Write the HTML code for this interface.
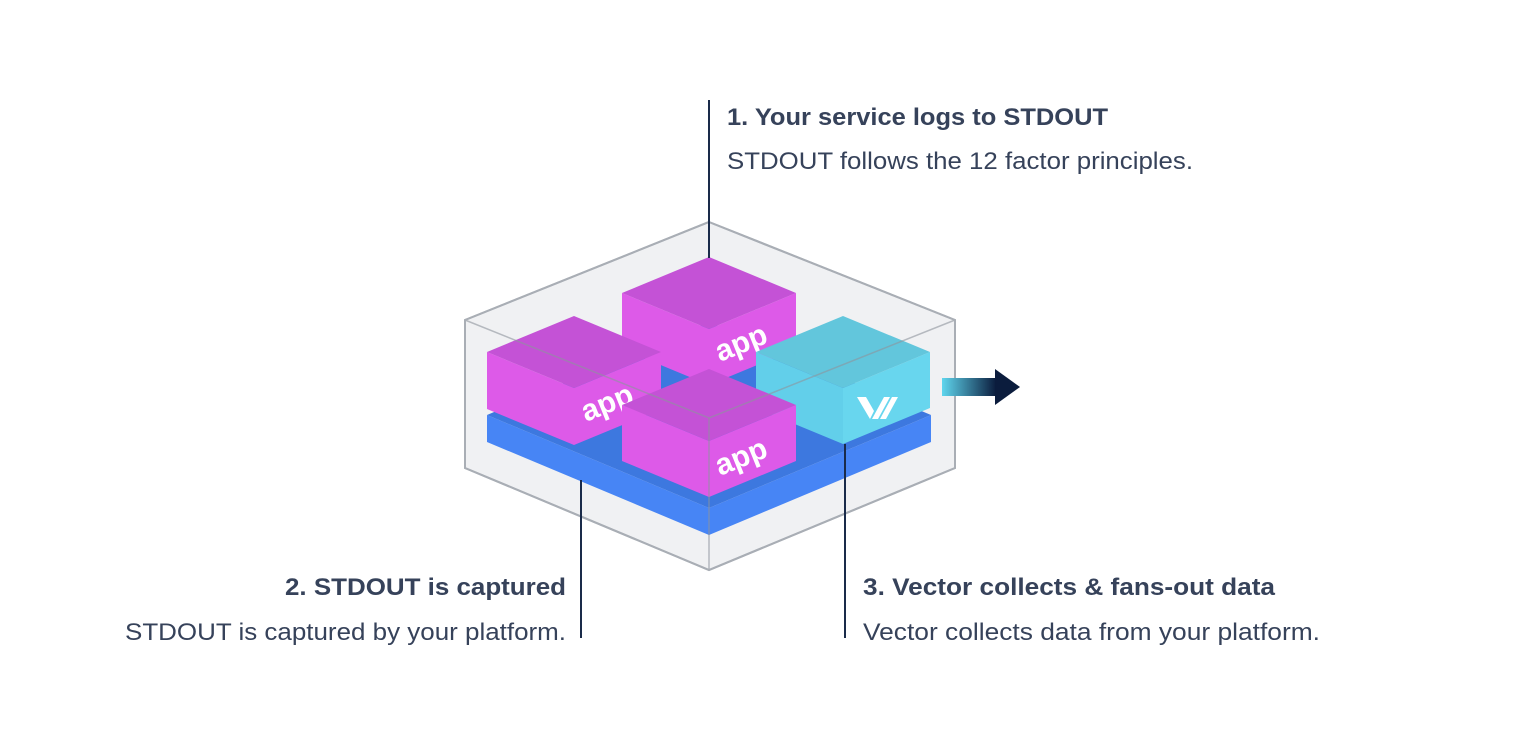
<!DOCTYPE html>
<html><head><meta charset="utf-8"><style>
html,body{margin:0;padding:0;background:#fff;}
body{width:1522px;height:724px;overflow:hidden;font-family:"Liberation Sans",sans-serif;}
</style></head><body>
<svg width="1522" height="724" viewBox="0 0 1522 724" xmlns="http://www.w3.org/2000/svg" font-family="Liberation Sans, sans-serif">
<defs>
<linearGradient id="ag" x1="0" x2="1" y1="0" y2="0"><stop offset="0" stop-color="#5fd6ee"/><stop offset="1" stop-color="#0b1c3d"/></linearGradient>
</defs>
<polygon points="709,222 955,320 955,468 709,570 465,468 465,320" fill="#f0f1f3" stroke="#a9aeb5" stroke-width="2"/>
<polygon points="487,415 709,508 709,535 487,442" fill="#4785f5"/>
<polygon points="709,508 931,415 931,442 709,535" fill="#4785f5"/>
<polygon points="709,322 931,415 709,508 487,415" fill="#3d78df"/>
<!-- back app -->
<polygon points="622,293 709,329 709,385 622,349" fill="#dd5ae8"/>
<polygon points="709,329 796,293 796,349 709,385" fill="#dd5ae8"/>
<polygon points="709,257 796,293 709,329 622,293" fill="#c452d6"/>
<text transform="translate(720,362) rotate(-22)" fill="#fff" font-weight="bold" font-size="30">app</text>
<!-- left app -->
<polygon points="487,352 574,388 574,445 487,409" fill="#dd5ae8"/>
<polygon points="574,388 661,352 661,409 574,445" fill="#dd5ae8"/>
<polygon points="574,316 661,352 574,388 487,352" fill="#c452d6"/>
<text transform="translate(586,422) rotate(-22)" fill="#fff" font-weight="bold" font-size="30">app</text>
<!-- vector box -->
<polygon points="756,352 843,388 843,444 756,408" fill="#62cfea"/>
<polygon points="843,388 930,352 930,408 843,444" fill="#68d6ee"/>
<polygon points="843,316 930,352 843,388 756,352" fill="#62c6dc"/>
<polygon points="857,397 866,397 874,411 870,419" fill="#fff"/>
<polygon points="872,419 884,397 890,397 878,419" fill="#fff"/>
<polygon points="880,419 892,397 898,397 886,419" fill="#fff"/>
<!-- front app -->
<polygon points="622,405 709,441 709,497 622,461" fill="#dd5ae8"/>
<polygon points="709,441 796,405 796,461 709,497" fill="#dd5ae8"/>
<polygon points="709,369 796,405 709,441 622,405" fill="#c452d6"/>
<text transform="translate(720,476) rotate(-22)" fill="#fff" font-weight="bold" font-size="30">app</text>
<polyline points="465,320 709,418 955,320" fill="none" stroke="#8e949c" stroke-opacity="0.6" stroke-width="1.5"/>
<line x1="709" y1="418" x2="709" y2="570" stroke="#8e949c" stroke-opacity="0.6" stroke-width="1.5"/>
<polygon points="709,222 955,320 955,468 709,570 465,468 465,320" fill="none" stroke="#a9aeb5" stroke-width="2"/>
<rect x="942" y="378" width="54" height="18" fill="url(#ag)"/>
<polygon points="995,369 1020,387 995,405" fill="#0b1c3d"/>
<line x1="709" y1="100" x2="709" y2="258" stroke="#1a2b4a" stroke-width="2"/>
<line x1="581" y1="480" x2="581" y2="638" stroke="#1a2b4a" stroke-width="2"/>
<line x1="845" y1="444" x2="845" y2="638" stroke="#1a2b4a" stroke-width="2"/>
<g fill="#36425a" font-size="24">
<text x="727" y="125" font-weight="bold" textLength="381" lengthAdjust="spacingAndGlyphs">1. Your service logs to STDOUT</text>
<text x="727" y="169" textLength="466" lengthAdjust="spacingAndGlyphs">STDOUT follows the 12 factor principles.</text>
<text x="285" y="595" font-weight="bold" textLength="281" lengthAdjust="spacingAndGlyphs">2. STDOUT is captured</text>
<text x="125" y="640" textLength="441" lengthAdjust="spacingAndGlyphs">STDOUT is captured by your platform.</text>
<text x="863" y="595" font-weight="bold" textLength="412" lengthAdjust="spacingAndGlyphs">3. Vector collects &amp; fans-out data</text>
<text x="863" y="640" textLength="457" lengthAdjust="spacingAndGlyphs">Vector collects data from your platform.</text>
</g>
</svg>
</body></html>
